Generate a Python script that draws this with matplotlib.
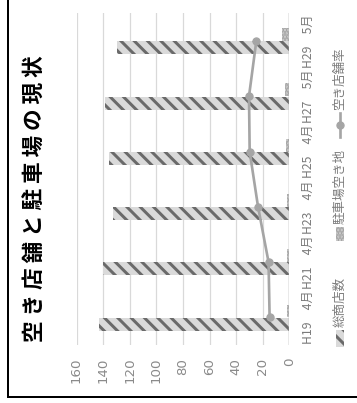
import matplotlib
matplotlib.use("Agg")
import matplotlib.pyplot as plt
from matplotlib.patches import Rectangle
from matplotlib.lines import Line2D

plt.rcParams['font.family'] = ['Noto Sans CJK JP', 'DejaVu Sans']
plt.rcParams['hatch.linewidth'] = 2.7

# ---- data ----
categories = ["H19　4月", "H21　4月", "H23　4月", "H25　4月", "H27　5月", "H29　5月"]
total_shops = [143.3, 140.3, 132.4, 135.2, 138.2, 129.5]      # 総商店数
parking_vacant = [2.0, 2.0, 2.0, 2.2, 3.6, 5.4]             # 駐車場空き地
vacancy_rate = [14.8, 15.6, 23.5, 29.8, 30.3, 24.8]          # 空き店舗率
value_ticks = [0, 20, 40, 60, 80, 100, 120, 140, 160]
title = "空 き 店 舗 と 駐 車 場 の 現 状"
legend_labels = ["総商店数", "駐車場空き地", "空き店舗率"]

W, H, DPI = 357, 403, 80
fig = plt.figure(figsize=(W / DPI, H / DPI), dpi=DPI)

def fx(px):
    return px / W

def fy(py):
    return 1 - py / H

ax_left, ax_right, ax_top, ax_bottom = 76.5, 289.3, 13.3, 345.0
ax = fig.add_axes([fx(ax_left), fy(ax_bottom), fx(ax_right - ax_left), (ax_bottom - ax_top) / H])

pos = list(range(len(categories)))
bh = 0.235
hatch_gray = '#6a6a6a'
bar_face = '#dadada'
ax.barh([p - 0.125 for p in pos], total_shops, height=bh, color=bar_face,
        edgecolor=hatch_gray, hatch='\\\\', linewidth=0, zorder=2)
ax.barh([p + 0.115 for p in pos], parking_vacant, height=bh, color='#d0d0d0',
        edgecolor='#a5a5a5', hatch='....', linewidth=0, zorder=2)
ax.plot(vacancy_rate, pos, color='#a5a5a5', lw=2.4, marker='o', ms=6.5, zorder=4)

ax.set_xlim(160, 0)
ax.set_ylim(-0.5, len(categories) - 0.5)
ax.set_xticks(value_ticks)
ax.set_xticklabels([str(v) for v in value_ticks], rotation=90, family='DejaVu Sans',
                   fontsize=12, color='#8a8a8a')
ax.tick_params(axis='x', length=0, pad=11.5)
ax.yaxis.tick_right()
ax.set_yticks(pos)
ax.set_yticklabels(categories, rotation=90, va='center', ha='left', fontsize=11, color='#7a7a7a')
ax.tick_params(axis='y', length=0, pad=11.5)
ax.grid(axis='x', color='#d9d9d9', lw=1.1, zorder=0)
ax.set_axisbelow(True)
for s in ax.spines.values():
    s.set_visible(False)
ax.axvline(0, color='#b0b0b0', lw=1.3, zorder=3)

# title
fig.text(fx(35), fy(199), title, rotation=90, ha='center', va='center',
         fontsize=19.5, fontweight='bold', color='black')

# manual rotated legend
lx = 340
leg_col = '#7a7a7a'
leg_fs = 11.3
fig.add_artist(Rectangle((fx(lx - 4), fy(347)), fx(8), 17 / H, transform=fig.transFigure,
                         facecolor=bar_face, edgecolor=hatch_gray, hatch='\\\\', linewidth=0))
fig.text(fx(lx), fy(327), legend_labels[0], rotation=90, ha='center', va='bottom',
         fontsize=leg_fs, color=leg_col)
fig.add_artist(Rectangle((fx(lx - 4), fy(241)), fx(8), 14 / H, transform=fig.transFigure,
                         facecolor='#d0d0d0', edgecolor='#a5a5a5', hatch='....', linewidth=0))
fig.text(fx(lx), fy(224), legend_labels[1], rotation=90, ha='center', va='bottom',
         fontsize=leg_fs, color=leg_col)
fig.add_artist(Line2D([fx(lx), fx(lx)], [fy(137), fy(113)], transform=fig.transFigure,
                      color='#a5a5a5', lw=2.4))
fig.add_artist(Line2D([fx(lx)], [fy(125)], transform=fig.transFigure,
                      color='#a5a5a5', marker='o', ms=6.5))
fig.text(fx(lx), fy(110), legend_labels[2], rotation=90, ha='center', va='bottom',
         fontsize=leg_fs, color=leg_col)

# outer frame (left and bottom edges visible)
fig.add_artist(Line2D([fx(7.8), fx(7.8)], [fy(-5), fy(396.8)], transform=fig.transFigure,
                      color='black', lw=1.8))
fig.add_artist(Line2D([fx(7.8), fx(365)], [fy(396.8), fy(396.8)], transform=fig.transFigure,
                      color='black', lw=1.8))

fig.savefig("out.png", dpi=DPI, facecolor='white')
